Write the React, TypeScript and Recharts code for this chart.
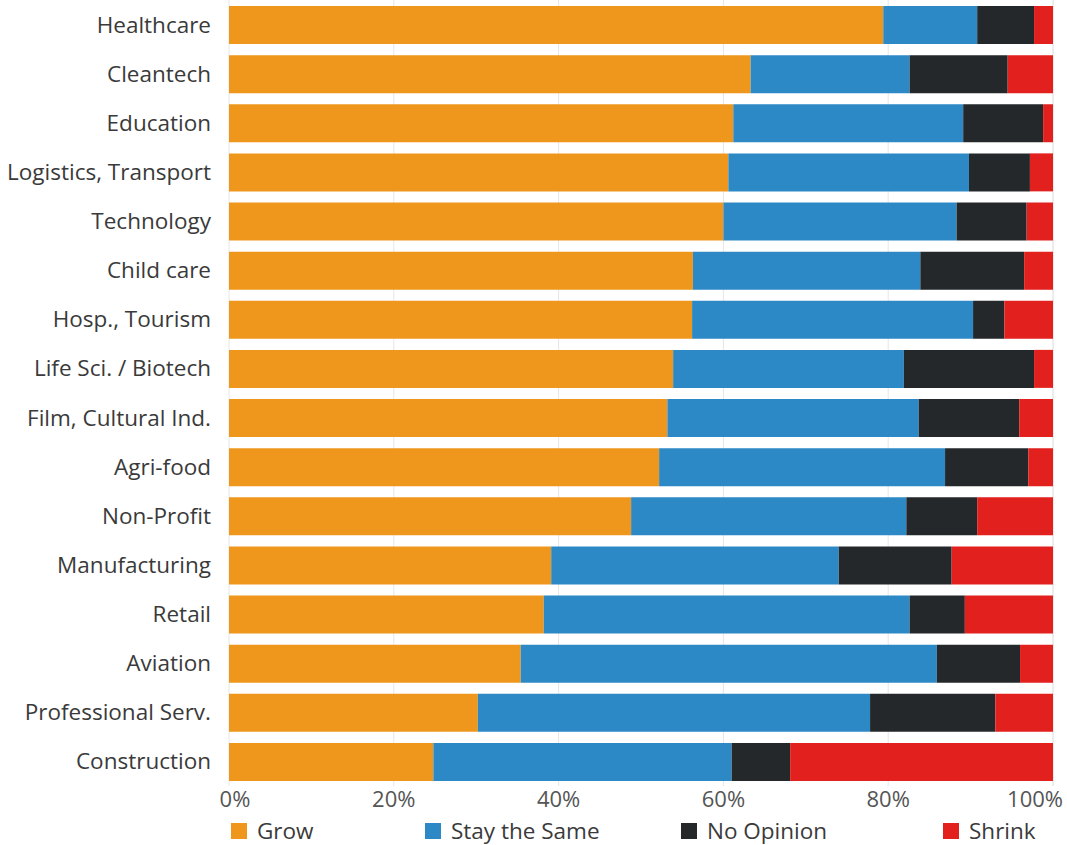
import { BarChart, Bar, XAxis, YAxis, CartesianGrid, Legend } from 'recharts'

const sectors = [
  'Healthcare',
  'Cleantech',
  'Education',
  'Logistics, Transport',
  'Technology',
  'Child care',
  'Hosp., Tourism',
  'Life Sci. / Biotech',
  'Film, Cultural Ind.',
  'Agri-food',
  'Non-Profit',
  'Manufacturing',
  'Retail',
  'Aviation',
  'Professional Serv.',
  'Construction',
]

const grow = [79.4, 63.3, 61.2, 60.6, 60.0, 56.3, 56.2, 53.9, 53.2, 52.2, 48.8, 39.1, 38.2, 35.4, 30.2, 24.8]
const stay = [11.4, 19.3, 27.9, 29.2, 28.3, 27.6, 34.1, 28.0, 30.5, 34.7, 33.4, 34.9, 44.4, 50.5, 47.6, 36.2]
const noOpinion = [6.9, 11.9, 9.7, 7.4, 8.5, 12.6, 3.8, 15.8, 12.2, 10.1, 8.6, 13.7, 6.7, 10.1, 15.2, 7.1]
const shrink = [2.3, 5.5, 1.2, 2.8, 3.2, 3.5, 5.9, 2.3, 4.1, 3.0, 9.2, 12.3, 10.7, 4.0, 7.0, 31.9]

const xTicks = [0, 20, 40, 60, 80, 100]

const series = [
  { key: 'grow', name: 'Grow', color: '#EF971D' },
  { key: 'stay', name: 'Stay the Same', color: '#2D89C6' },
  { key: 'noOpinion', name: 'No Opinion', color: '#24282B' },
  { key: 'shrink', name: 'Shrink', color: '#E2211E' },
]

const data = sectors.map((name, i) => ({
  name,
  grow: grow[i],
  stay: stay[i],
  noOpinion: noOpinion[i],
  shrink: shrink[i],
}))

const font = '"Open Sans", Lato, sans-serif'

// legend items sit at uneven spots in the original
const legendLeft = [231, 425, 681, 943]

function LegendRow() {
  return (
    <div style={{ position: 'relative', width: 1067, height: 29 }}>
      {series.map((s, i) => (
        <div
          key={s.key}
          style={{
            position: 'absolute',
            left: legendLeft[i],
            top: -1,
            display: 'flex',
            alignItems: 'center',
            fontFamily: font,
            fontSize: 22.5,
            color: '#3a3a3a',
          }}
        >
          <span style={{ width: 16, height: 16, background: s.color, marginRight: 10, display: 'inline-block' }} />
          {s.name}
        </div>
      ))}
    </div>
  )
}

function XTick(props: any) {
  const { x, y, payload } = props
  const v = payload.value
  const anchor = v === 100 ? 'end' : 'middle'
  const dx = v === 100 ? 10 : v === 0 ? 6 : 0
  return (
    <text x={x + dx} y={y} dy="0.71em" textAnchor={anchor} fill="#555" fontSize={22} fontFamily={font}>
      {v}%
    </text>
  )
}

export default function App() {
  return (
    <div style={{ position: 'absolute', left: 0, top: 0, width: 1067, height: 845, background: '#fff' }}>
      <BarChart
        width={1067}
        height={845}
        data={data}
        layout="vertical"
        margin={{ top: 0, right: 14, left: 0, bottom: 0 }}
      >
        <CartesianGrid horizontal={false} stroke="#e6e6e6" />
        <XAxis
          type="number"
          domain={[0, 100]}
          ticks={xTicks}
          axisLine={false}
          tickLine={false}
          tickSize={0}
          tickMargin={5}
          height={30}
          tick={<XTick />}
        />
        <YAxis
          type="category"
          dataKey="name"
          width={229}
          axisLine={false}
          tickLine={false}
          tickSize={0}
          tickMargin={18}
          interval={0}
          tick={{ fill: '#3a3a3a', fontSize: 22.5, fontFamily: font }}
        />
        <Legend verticalAlign="bottom" height={29} content={() => <LegendRow />} />
        {series.map((s) => (
          <Bar
            key={s.key}
            dataKey={s.key}
            name={s.name}
            stackId="a"
            fill={s.color}
            barSize={38}
            isAnimationActive={false}
          />
        ))}
      </BarChart>
    </div>
  )
}
